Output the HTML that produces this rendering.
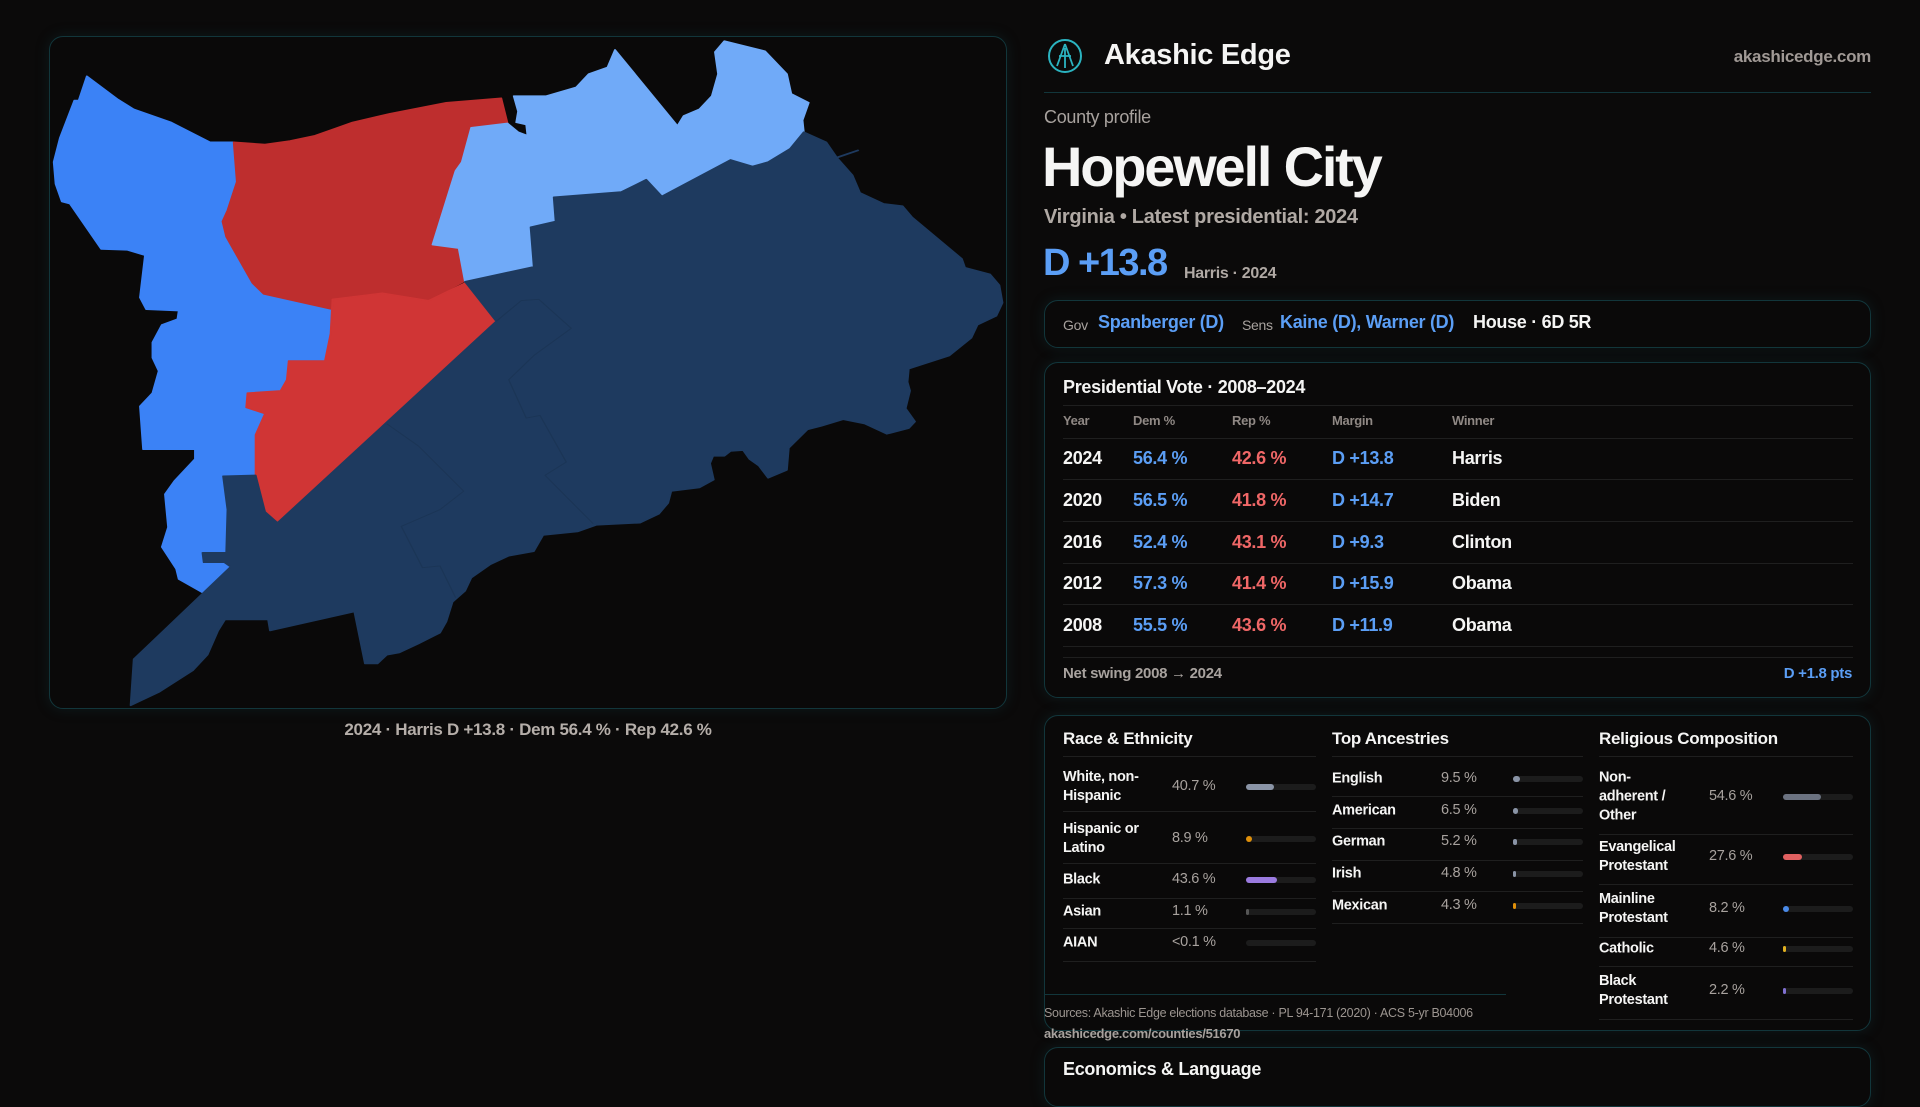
<!DOCTYPE html>
<html><head><meta charset="utf-8">
<style>
*{box-sizing:border-box;margin:0;padding:0}
body{width:1920px;height:1080px;background:#0b0a0a;font-family:"Liberation Sans",sans-serif;color:#f5f5f4;overflow:hidden;position:relative;letter-spacing:-0.3px}
.a{position:absolute;white-space:nowrap}
.panel{position:absolute;border:1px solid #12363b;border-radius:14px;background:#0a0909;box-shadow:0 0 14px rgba(20,70,80,0.25)}
.g{color:#a8a29e}.b{color:#5b9ef5}.r{color:#f06767}.w{color:#f5f5f4}
.hl{position:absolute;height:1px;background:#1f1f1f}
.track{position:absolute;height:6px;border-radius:3px;background:#1c1c1c}
.fill{position:absolute;left:0;top:0;height:6px;border-radius:3px}
</style></head><body>

<div class="panel" style="left:49px;top:36px;width:958px;height:673px"></div>
<svg class="a" style="left:0;top:0" width="1020" height="720">
<g transform="translate(40,30) scale(0.625,0.44)" stroke-linejoin="round" stroke-width="3">
<polygon fill="#3b82f6" stroke="#3b82f6" points="75,105 125,158 150,180 210,210 272,255 310,255 315,345 300,410 292,435 298,470 340,575 358,600 468,635 465,690 456,752 398,752 395,795 385,820 332,825 330,858 360,872 345,920 345,1012 293,1014 300,1090 298,1188 260,1188 262,1210 295,1210 305,1220 262,1280 222,1248 218,1225 195,1175 205,1130 200,1055 215,1025 248,975 248,953 165,953 160,855 180,825 190,775 180,745 180,710 195,670 220,657 222,638 170,635 160,608 168,512 140,500 98,498 48,395 35,390 25,350 22,300 32,245 55,160 62,160"/>
<polygon fill="#be2e2e" stroke="#be2e2e" points="310,255 360,260 400,252 440,240 500,210 560,190 650,165 738,155 748,212 690,222 675,300 665,320 655,365 628,488 670,496 680,570 622,615 548,598 468,612 468,635 358,600 340,575 298,470 292,435 300,410 315,345"/>
<polygon fill="#d03535" stroke="#d03535" points="468,612 548,598 622,615 680,575 730,662 380,1120 360,1095 345,1012 345,920 360,872 330,858 332,825 385,820 395,795 398,752 456,752 465,690"/>
<polygon fill="#70aaf8" stroke="#70aaf8" points="758,150 810,150 858,130 878,100 908,85 920,45 1020,218 1030,195 1055,180 1075,150 1085,100 1080,50 1095,25 1160,48 1195,100 1202,145 1230,165 1220,205 1222,232 1200,270 1165,300 1140,310 1105,295 995,378 970,340 930,368 822,380 825,435 785,448 790,538 680,572 670,496 628,488 655,365 665,320 675,300 690,222 748,212 765,232 780,240 778,215 762,210 765,185"/>
<polygon fill="#1e3a5f" stroke="#1e3a5f" points="680,572 790,538 785,448 825,435 822,380 930,368 970,340 995,378 1105,295 1140,310 1165,300 1200,270 1222,232 1258,255 1275,290 1300,330 1312,370 1350,395 1380,400 1395,425 1475,520 1480,540 1520,555 1535,580 1540,620 1530,650 1500,670 1490,700 1455,740 1390,770 1388,800 1392,820 1385,860 1400,890 1390,905 1355,918 1320,895 1285,885 1250,900 1228,908 1198,950 1195,1000 1165,1018 1150,990 1135,975 1125,955 1105,957 1095,968 1077,968 1072,985 1078,1022 1055,1040 1010,1048 1005,1075 990,1100 960,1120 890,1125 860,1140 805,1148 790,1185 750,1195 720,1215 690,1245 680,1275 660,1300 650,1345 640,1370 605,1395 575,1415 555,1420 540,1440 520,1440 503,1322 368,1365 365,1340 296,1340 285,1365 268,1420 245,1455 190,1505 145,1535 150,1430 305,1220 295,1210 262,1210 260,1188 298,1188 300,1090 293,1014 345,1012 360,1095 380,1120 730,662"/>
<polyline fill="none" stroke="#1b3556" stroke-width="2" points="730,662 770,615 798,612 850,678 790,740 750,795 778,882 800,876 842,982 808,1012 885,1122"/>
<polyline fill="none" stroke="#1b3556" stroke-width="2" points="555,895 605,945 678,1048 640,1090 578,1128 612,1222 640,1218 665,1290"/>
<polyline fill="none" stroke="#1e3a5f" stroke-width="4" points="1275,290 1310,273"/>
</g></svg>
<div class="a g" style="left:0;width:1056px;text-align:center;top:720px;font-size:17px;font-weight:bold;color:#b5aea9">2024 · Harris D +13.8 · Dem 56.4 % · Rep 42.6 %</div>

<svg class="a" style="left:1047px;top:38px" width="36" height="36" viewBox="0 0 36 36"><circle cx="18" cy="18" r="16" fill="none" stroke="#2bb3c0" stroke-width="2"/><path d="M18 6 L10 28 M18 6 L26 28 M12 18 H24 M18 10 V30" stroke="#2bb3c0" stroke-width="1.8" fill="none"/></svg>
<div class="a w" style="left:1104px;top:39px;font-size:29px;font-weight:bold">Akashic Edge</div>
<div class="a g" style="right:49px;top:47px;font-size:17px;font-weight:bold;color:#a09995">akashicedge.com</div>
<div class="hl" style="left:1044px;width:827px;top:92px;background:#12363b"></div>
<div class="a g" style="left:1044px;top:107px;font-size:18px">County profile</div>
<div class="a w" style="left:1042px;top:134px;font-size:56px;font-weight:bold;letter-spacing:-2.2px">Hopewell City</div>
<div class="a g" style="left:1044px;top:206px;font-size:20px;font-weight:bold;color:#b0a9a4">Virginia • Latest presidential: 2024</div>
<div class="a b" style="left:1043px;top:242px;font-size:38px;font-weight:bold;letter-spacing:-1.5px">D +13.8</div>
<div class="a g" style="left:1184px;top:265px;font-size:16px;font-weight:bold;color:#b0a9a4">Harris · 2024</div>

<div class="panel" style="left:1044px;top:300px;width:827px;height:48px"></div>
<div class="a g" style="left:1063px;top:317px;font-size:14px">Gov</div>
<div class="a b" style="left:1098px;top:312px;font-size:18px;font-weight:bold">Spanberger (D)</div>
<div class="a g" style="left:1242px;top:317px;font-size:14px">Sens</div>
<div class="a b" style="left:1280px;top:312px;font-size:18px;font-weight:bold">Kaine (D), Warner (D)</div>
<div class="a w" style="left:1473px;top:312px;font-size:18px;font-weight:bold">House · 6D 5R</div>

<div class="panel" style="left:1044px;top:362px;width:827px;height:336px"></div>
<div class="a w" style="left:1063px;top:377px;font-size:18px;font-weight:bold">Presidential Vote · 2008–2024</div>
<div class="hl" style="left:1063px;width:790px;top:405px"></div>
<div id="pres"></div>
<div class="hl" style="left:1063px;width:790px;top:657px"></div>
<div class="a g" style="left:1063px;top:665px;font-size:15px;font-weight:bold">Net swing 2008 → 2024</div>
<div class="a b" style="right:68px;top:665px;font-size:15px;font-weight:bold">D +1.8 pts</div>

<div class="panel" style="left:1044px;top:715px;width:827px;height:316px"></div>
<div id="demo"></div>
<div class="hl" style="left:1044px;width:462px;top:994px;background:#12363b"></div>
<div class="a g" style="left:1044px;top:1006px;font-size:12.5px;color:#9c9590">Sources: Akashic Edge elections database · PL 94-171 (2020) · ACS 5-yr B04006</div>
<div class="a g" style="left:1044px;top:1026px;font-size:13px;font-weight:bold;color:#a8a29e">akashicedge.com/counties/51670</div>

<div class="panel" style="left:1044px;top:1047px;width:827px;height:60px"></div>
<div class="a w" style="left:1063px;top:1059px;font-size:18px;font-weight:bold">Economics &amp; Language</div>

<script>
const years=["2024","2020","2016","2012","2008"];
const demPct=[56.4,56.5,52.4,57.3,55.5];
const repPct=[42.6,41.8,43.1,41.4,43.6];
const winners=["Harris","Biden","Clinton","Obama","Obama"];
const raceLabels=["White, non-\nHispanic","Hispanic or\nLatino","Black","Asian","AIAN"];
const raceValues=[40.7,8.9,43.6,1.1,0.05];
const raceText=["40.7 %","8.9 %","43.6 %","1.1 %","<0.1 %"];
const ancLabels=["English","American","German","Irish","Mexican"];
const ancValues=[9.5,6.5,5.2,4.8,4.3];
const relLabels=["Non-\nadherent /\nOther","Evangelical\nProtestant","Mainline\nProtestant","Catholic","Black\nProtestant"];
const relValues=[54.6,27.6,8.2,4.6,2.2];

function div(parent,cls,style,text){const d=document.createElement('div');d.className=cls;d.style.cssText=style;if(text!==undefined)d.textContent=text;parent.appendChild(d);return d;}
const pres=document.getElementById('pres');
const hdr=["Year","Dem %","Rep %","Margin","Winner"],cx=[1063,1133,1232,1332,1452];
hdr.forEach((h,i)=>{const e=div(pres,'a g','left:'+cx[i]+'px;top:413px;font-size:13px;font-weight:bold;color:#8f8884',h);

});
let l0=div(pres,'hl','left:1063px;width:790px;top:438px');


years.forEach((y,i)=>{const top=448+i*41.8;
const row=div(pres,'','');


const m=demPct[i]-repPct[i];
const vals=[y,demPct[i].toFixed(1)+' %',repPct[i].toFixed(1)+' %',(m>=0?'D +':'R +')+Math.abs(m).toFixed(1),winners[i]];
const cls=['w','b','r','b','w'];
vals.forEach((v,j)=>{const e=div(row,'a '+cls[j],'left:'+cx[j]+'px;top:'+top+'px;font-size:18px;font-weight:bold',v);

});
const ln=div(row,'hl','left:1063px;width:790px;top:'+(top+31)+'px');


});

const demo=document.getElementById('demo');
function section(title,x,w,labels,values,texts,colors,rows,valX){
const t=div(demo,'a w','left:'+x+'px;top:729px;font-size:17px;font-weight:bold',title);


const r0=div(demo,'hl','left:'+x+'px;width:'+w+'px;top:756px');


labels.forEach((lb,i)=>{const [c,bot]=rows[i];
const lab=div(demo,'a w','left:'+x+'px;top:'+c+'px;transform:translateY(-50%);font-size:14.5px;font-weight:bold;line-height:19px;white-space:pre',lb);


const v=div(demo,'a g','left:'+valX+'px;top:'+(c-9)+'px;font-size:14.5px;color:#a8a29e',texts?texts[i]:values[i].toFixed(1)+' %');


const trX=x+w-70;
const tr=div(demo,'track','left:'+trX+'px;top:'+(c-3)+'px;width:70px');


const f=div(tr,'fill','width:'+(values[i]<0.5?0:Math.max(3,70*values[i]/100))+'px;background:'+colors[i]);


const ln=div(demo,'hl','left:'+x+'px;width:'+w+'px;top:'+bot+'px');


});}
section("Race & Ethnicity",1063,253,raceLabels,raceValues,raceText,["#8a94a6","#e0900a","#9b7be0","#555","#555"],[[787,811],[839,863],[880,898],[912,928],[943,961]],1172);
section("Top Ancestries",1332,251,ancLabels,ancValues,null,["#8a94a6","#8a94a6","#8a94a6","#8a94a6","#e0900a"],[[779,796],[811,828],[842,860],[874,891],[906,923]],1441);
section("Religious Composition",1599,254,relLabels,relValues,null,["#6b7280","#e06060","#4a8ae8","#e0b020","#8070d0"],[[797,834],[857,884],[909,937],[949,966],[991,1019]],1709);
</script>
</body></html>
